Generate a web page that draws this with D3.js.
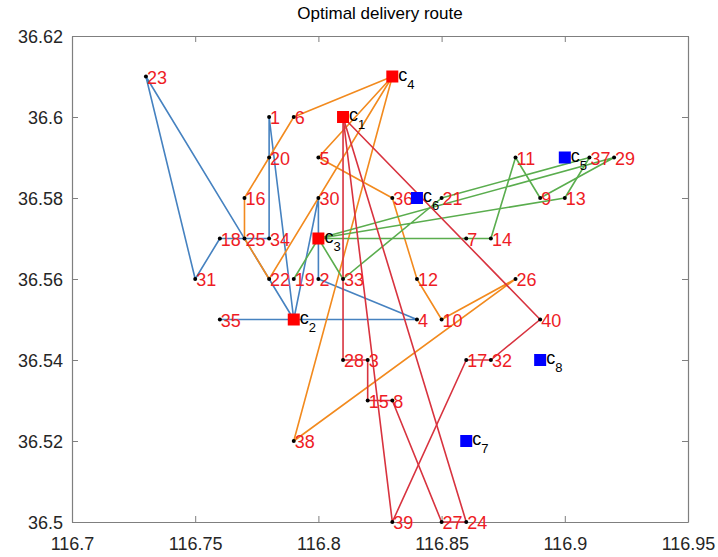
<!DOCTYPE html>
<html>
<head>
<meta charset="utf-8">
<script src="https://cdn.jsdelivr.net/npm/d3@7/dist/d3.min.js"></script>
<style>
  html, body { margin: 0; padding: 0; background: #fff; }
  svg { display: block; }
  text { font-family: "Liberation Sans", Arial, Helvetica, sans-serif; }
</style>
</head>
<body>
<svg id="chart" width="718" height="557"></svg>
<script>
// Customer points (longitude, latitude)
const customerIds = [1,2,3,4,5,6,7,8,9,10,11,12,13,14,15,16,17,18,19,20,
                     21,22,23,24,25,26,27,28,29,30,31,32,33,34,35,36,37,38,39,40];
const customerX = [116.78,116.80,116.82,116.84,116.80,116.79,116.86,116.83,116.89,116.85,
                   116.88,116.84,116.90,116.87,116.82,116.77,116.86,116.76,116.79,116.78,
                   116.85,116.78,116.73,116.86,116.77,116.88,116.85,116.81,116.92,116.80,
                   116.75,116.87,116.81,116.78,116.76,116.83,116.91,116.79,116.83,116.89];
const customerY = [36.60,36.56,36.54,36.55,36.59,36.60,36.57,36.53,36.58,36.55,
                   36.59,36.56,36.58,36.57,36.53,36.58,36.54,36.57,36.56,36.59,
                   36.58,36.56,36.61,36.50,36.57,36.56,36.50,36.54,36.59,36.58,
                   36.56,36.54,36.56,36.57,36.55,36.58,36.59,36.52,36.50,36.55];

// Candidate distribution centres; the first four are opened
const centerIds = [1,2,3,4,5,6,7,8];
const centerX = [116.81,116.79,116.80,116.83,116.90,116.84,116.86,116.89];
const centerY = [36.60,36.55,36.57,36.61,36.59,36.58,36.52,36.54];
const centerOpen = [true,true,true,true,false,false,false,false];

// Vehicle routes, one list per serving centre ("c#" = centre, numbers = customers)
const routesC2 = [["c2",30,2,4,35,"c2"], ["c2",22,23,31,18,25,34,1,"c2"]];
const routesC4 = [["c4",6,20,16,25,22,"c4"], ["c4",5,36,12,10,26,38,"c4"]];
const routesC3 = [["c3",7,14,11,9,29,"c3"], ["c3",33,21,37,13,"c3"], ["c3",19,"c3"]];
const routesC1 = [["c1",28,3,15,8,27,24,"c1"], ["c1",39,17,32,40,"c1"]];

const xTicks = [116.7,116.75,116.8,116.85,116.9,116.95];
const xTickLabels = ["116.7","116.75","116.8","116.85","116.9","116.95"];
const yTicks = [36.5,36.52,36.54,36.56,36.58,36.6,36.62];
const yTickLabels = ["36.5","36.52","36.54","36.56","36.58","36.6","36.62"];

const titleText = "Optimal delivery route";

const svg = d3.select("#chart");
const plotLeft = 72, plotRight = 688, plotTop = 36, plotBottom = 522;

const x = d3.scaleLinear().domain([116.7, 116.95]).range([plotLeft, plotRight]);
const y = d3.scaleLinear().domain([36.5, 36.62]).range([plotBottom, plotTop]);

function coord(id) {
  if (typeof id === "string") {
    const k = centerIds.indexOf(+id.slice(1));
    return [centerX[k], centerY[k]];
  }
  const k = customerIds.indexOf(id);
  return [customerX[k], customerY[k]];
}

// Axes box with inward ticks on all four sides
const axisColor = "#7f7f7f";
const tickLen = 6;
const axB = d3.axisBottom(x).tickValues(xTicks).tickFormat((d, i) => xTickLabels[i]).tickSizeInner(-tickLen).tickSizeOuter(0).tickPadding(15);
const axT = d3.axisTop(x).tickValues(xTicks).tickFormat("").tickSizeInner(-tickLen).tickSizeOuter(0);
const axL = d3.axisLeft(y).tickValues(yTicks).tickFormat((d, i) => yTickLabels[i]).tickSizeInner(-tickLen).tickSizeOuter(0).tickPadding(9);
const axR = d3.axisRight(y).tickValues(yTicks).tickFormat("").tickSizeInner(-tickLen).tickSizeOuter(0);

function styleAxis(g) {
  g.select(".domain").attr("stroke", axisColor).attr("stroke-width", 1.2);
  g.selectAll(".tick line").attr("stroke", axisColor).attr("stroke-width", 1);
  g.selectAll(".tick text").attr("fill", "#262626").style("font-size", "18px")
    .style("font-family", "'Liberation Sans', Arial, sans-serif");
}
svg.append("g").attr("transform", `translate(0,${plotBottom})`).call(axB).call(styleAxis);
svg.append("g").attr("transform", `translate(0,${plotTop})`).call(axT).call(styleAxis);
svg.append("g").attr("transform", `translate(${plotLeft},0)`).call(axL).call(styleAxis)
  .selectAll(".tick text").attr("dy", "0.38em");
svg.append("g").attr("transform", `translate(${plotRight},0)`).call(axR).call(styleAxis);

// Title
svg.append("text").attr("x", (plotLeft + plotRight) / 2).attr("y", 19)
  .attr("text-anchor", "middle").attr("fill", "#000").style("font-size", "17px")
  .text(titleText);

// Routes
const line = d3.line().x(d => x(coord(d)[0])).y(d => y(coord(d)[1]));
const routeGroups = [
  { routes: routesC2, color: "#4682c0" },
  { routes: routesC4, color: "#f28a1e" },
  { routes: routesC3, color: "#5aad4e" },
  { routes: routesC1, color: "#d8333f" }
];
const gRoutes = svg.append("g");
routeGroups.forEach(grp => {
  gRoutes.selectAll(null).data(grp.routes).enter().append("path")
    .attr("d", r => line(r))
    .attr("fill", "none")
    .attr("stroke", grp.color)
    .attr("stroke-width", 1.6)
    .attr("stroke-linejoin", "round");
});

// Customers: black dots with red index labels
const customers = customerIds.map((id, i) => ({ id, lon: customerX[i], lat: customerY[i] }));
svg.append("g").selectAll("circle").data(customers).enter().append("circle")
  .attr("cx", d => x(d.lon)).attr("cy", d => y(d.lat)).attr("r", 2).attr("fill", "#000");
svg.append("g").selectAll("text").data(customers).enter().append("text")
  .attr("x", d => x(d.lon) + 1).attr("y", d => y(d.lat) + 7)
  .attr("fill", "#ee1c25").style("font-size", "18px")
  .text(d => d.id);

// Centres: filled squares (red = opened, blue = not opened) with c_k labels
const centers = centerIds.map((id, i) => ({ id, lon: centerX[i], lat: centerY[i], open: centerOpen[i] }));
const sq = 12;
svg.append("g").selectAll("rect").data(centers).enter().append("rect")
  .attr("x", d => x(d.lon) - sq / 2).attr("y", d => y(d.lat) - sq / 2)
  .attr("width", sq).attr("height", sq)
  .attr("fill", d => d.open ? "#ff0000" : "#0000ff");
const cl = svg.append("g").selectAll("text").data(centers).enter().append("text")
  .attr("x", d => x(d.lon) + 6).attr("y", d => y(d.lat) + 4)
  .attr("fill", "#000").style("font-size", "18px");
cl.append("tspan").text("c");
cl.append("tspan").attr("dy", 8).style("font-size", "13px").text(d => d.id);
</script>
</body>
</html>
